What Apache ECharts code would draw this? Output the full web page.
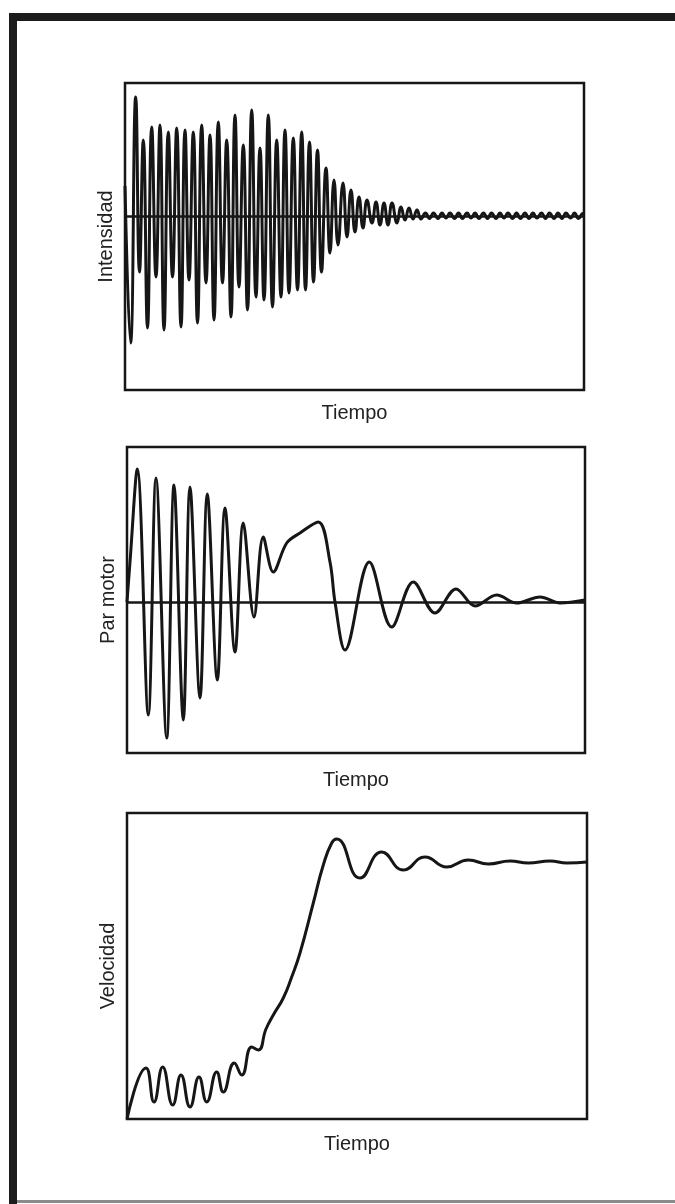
<!DOCTYPE html>
<html>
<head>
<meta charset="utf-8">
<script src="https://cdn.jsdelivr.net/npm/echarts@6/dist/echarts.min.js"></script>
<style>
  html, body { margin: 0; padding: 0; background: #ffffff; }
  #chart { width: 675px; height: 1204px; }
</style>
</head>
<body>
<div id="chart"></div>
<script>
// Arranque de un motor de inducción: intensidad, par motor y velocidad frente al tiempo.
// Cada serie es una lista de pares [tiempo, valor] en unidades arbitrarias.

const intensidad = [
  [0, 30], [5.5, -127], [10.7, 119],
  [14.5, -56], [18.3, 76], [22.5, -112], [26.7, 89], [31, -61], [35, 91],
  [39, -114], [43.3, 84], [47.5, -61], [51.7, 88], [56, -111], [60, 86],
  [64, -64], [68.3, 84], [72.5, -107], [76.7, 91], [81, -67], [85, 81],
  [89, -104], [93.3, 94], [97.5, -67], [101.7, 76], [106, -101], [110, 101],
  [114, -71], [118.3, 71], [122.5, -94], [126.7, 106], [131, -81], [135, 68],
  [139, -84], [143.3, 101], [147.5, -91], [151.7, 76], [156, -81], [160, 86],
  [164, -77], [168.3, 78], [172.5, -74], [176.7, 84], [180.5, -74], [184.5, 74],
  [188.5, -66], [192.5, 66], [196.5, -56], [201, 48], [205, -37], [209, 36],
  [213, -29], [218, 33], [222, -21], [226, 26], [230, -16], [234, 19],
  [238, -12], [242, 16], [247, -7], [251, 14], [255, -9], [259, 13],
  [263, -9], [267, 13], [272, -7], [276, 9], [280, -4], [284, 8],
  [288, -3], [292, 6], [296, -3],
  [300.5, 3], [304.5, -2.5], [308.5, 3], [313, -2.5], [317, 3], [321, -2],
  [325, 3], [329.5, -2.5], [333.5, 3], [337.5, -2.5], [342, 3], [346, -2],
  [350, 3], [354, -2.5], [358.5, 3], [362.5, -2.5], [366.5, 3], [371, -2.5],
  [375, 3], [379, -2], [383, 3], [387.5, -2.5], [391.5, 3], [395.5, -2.5],
  [400, 3], [404, -2.5], [408, 3], [412, -2], [416.5, 3], [420.5, -2.5],
  [424.5, 3], [429, -2.5], [433, 3], [437, -2.5], [441, 3], [445.5, -2],
  [449.5, 3], [453.5, -2.5], [458, 2.5], [459, 2]
];

const parMotor = [
  [0, 0], [3, 40], [10.3, 133], [21.3, -113], [29, 124], [39.7, -136],
  [47, 117], [56.3, -118], [63, 115], [73, -96], [80.3, 108], [90.3, -78],
  [98, 94], [108, -50], [116.3, 79], [127, -15], [136.3, 65], [146.3, 30],
  [159.7, 59], [173, 69], [191.3, 80], [203, 40], [208, 0], [218, -48],
  [242.3, 40], [264.7, -25], [286.3, 20], [308, -11], [329, 13], [348, -4],
  [369.7, 7], [389.7, -1], [413, 5], [433, -1], [458, 2]
];

const velocidad = [
  [0, 0], [19, 51], [27, 17], [35.7, 52], [45.7, 14], [54, 44], [63, 12],
  [72, 42], [79.7, 17], [89.7, 47], [96.3, 27], [107.3, 56], [114.7, 44],
  [124.7, 72], [131.3, 69], [139, 90], [146.3, 104], [156.3, 121],
  [164.7, 142], [173, 166], [186.3, 216], [196.3, 254], [204.7, 276],
  [209.7, 280], [233, 241], [254.7, 267], [276.3, 249], [298, 262],
  [319.7, 252], [341.3, 259], [361.3, 255], [383, 258], [401.3, 256],
  [423, 258], [440, 256], [460, 257]
];

const nombresY = ['Intensidad', 'Par motor', 'Velocidad'];
const nombreX = 'Tiempo';
const rangosY = [[-174, 133], [-151, 155], [0, 306]];
const rangosX = [459, 458, 460];

const INK = '#161616';
const TEXT = '#222222';
const FONT = '"Liberation Sans", Arial, sans-serif';
const TAM = 20;

const grids = [
  { left: 125, top: 83, width: 459, height: 307 },
  { left: 127, top: 447, width: 458, height: 306 },
  { left: 127, top: 813, width: 460, height: 306 }
].map(g => Object.assign(g, {
  show: true, borderColor: INK, borderWidth: 2.5, backgroundColor: 'transparent'
}));

const xGaps = [13, 17, 15];

const xAxes = rangosX.map((max, i) => ({
  type: 'value', gridIndex: i, min: 0, max: max,
  name: nombreX, nameLocation: 'middle', nameGap: xGaps[i],
  nameTextStyle: { fontSize: TAM, color: TEXT, fontFamily: FONT },
  axisLine: { show: false }, axisTick: { show: false },
  axisLabel: { show: false }, splitLine: { show: false }
}));

const yAxes = rangosY.map((r, i) => ({
  type: 'value', gridIndex: i, min: r[0], max: r[1],
  name: nombresY[i], nameLocation: 'middle', nameGap: 9,
  nameTextStyle: { fontSize: TAM, color: TEXT, fontFamily: FONT },
  axisLine: { show: false }, axisTick: { show: false },
  axisLabel: { show: false }, splitLine: { show: false }
}));

const lineaCero = {
  silent: true, symbol: 'none',
  label: { show: false },
  lineStyle: { color: INK, width: 2.5, type: 'solid' },
  data: [{ yAxis: 0 }]
};

const series = [intensidad, parMotor, velocidad].map((d, i) => ({
  type: 'line', xAxisIndex: i, yAxisIndex: i, data: d,
  showSymbol: false, smooth: i === 1 ? 0.35 : 0.5,
  lineStyle: { color: INK, width: 3 },
  markLine: i < 2 ? lineaCero : undefined
}));

const chart = echarts.init(document.getElementById('chart'), null, { renderer: 'canvas' });
chart.setOption({
  animation: false,
  backgroundColor: '#ffffff',
  grid: grids,
  xAxis: xAxes,
  yAxis: yAxes,
  series: series,
  graphic: [
    // marco exterior de la figura
    { type: 'rect', shape: { x: 9, y: 13, width: 8, height: 1191 }, style: { fill: '#1c1c1c' } },
    { type: 'rect', shape: { x: 9, y: 13, width: 666, height: 8 }, style: { fill: '#1c1c1c' } },
    { type: 'rect', shape: { x: 17, y: 1200, width: 658, height: 3 }, style: { fill: '#8a8a8a' } }
  ]
});
</script>
</body>
</html>
